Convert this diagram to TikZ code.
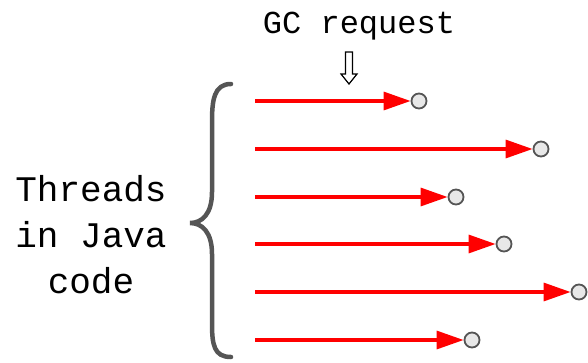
\documentclass[tikz,border=0pt]{standalone}
\usepackage{fontspec}
\newfontfamily\mono{Liberation Mono}
\usetikzlibrary{arrows.meta}
\definecolor{bracegray}{HTML}{555555}
\definecolor{endfill}{HTML}{E8E8E8}
\begin{document}
\begin{tikzpicture}[x=1pt,y=-1pt,
  thread/.style={draw=red,line width=3.2pt,-{Triangle[length=27pt,width=18pt]}},
  endpt/.style={circle,draw=bracegray,fill=endfill,line width=1.8pt,minimum size=15pt,inner sep=0pt},
  bracestroke/.style={draw=bracegray,line width=4.5pt,line cap=round}]
\useasboundingbox (0,0) rectangle (588,362);

% label and request marker
\node[font={\mono\fontsize{32}{38}\selectfont},anchor=base] (gc) at (359,33) {GC request};
\node[font={\mono\fontsize{36}{46}\selectfont},align=center] (threads) at (91,235) {Threads\\in Java\\code};

% hollow down arrow under the request
\draw[line width=1.2pt,fill=white] (345.5,52) -- (352.5,52) -- (352.5,74) -- (357,74) -- (349,84) -- (341,74) -- (345.5,74) -- cycle;

% curly brace
\draw[bracestroke] (231,84) .. controls (214,84) and (212,100) .. (212,122)
  -- (212,192) .. controls (212,214) and (202,223) .. (190,223)
  .. controls (202,223) and (212,232) .. (212,254)
  -- (212,323) .. controls (212,345) and (214,357) .. (231,357);

% threads: start points and end points
\foreach \i/\y/\x in {1/101/419, 2/149/541, 3/197/456, 4/244/504, 5/292/579, 6/340/472}{
  \coordinate (s\i) at (255,\y);
  \node[endpt] (e\i) at (\x,\y) {};
  \draw[thread] (s\i) -- (e\i.west);
}
\end{tikzpicture}
\end{document}
